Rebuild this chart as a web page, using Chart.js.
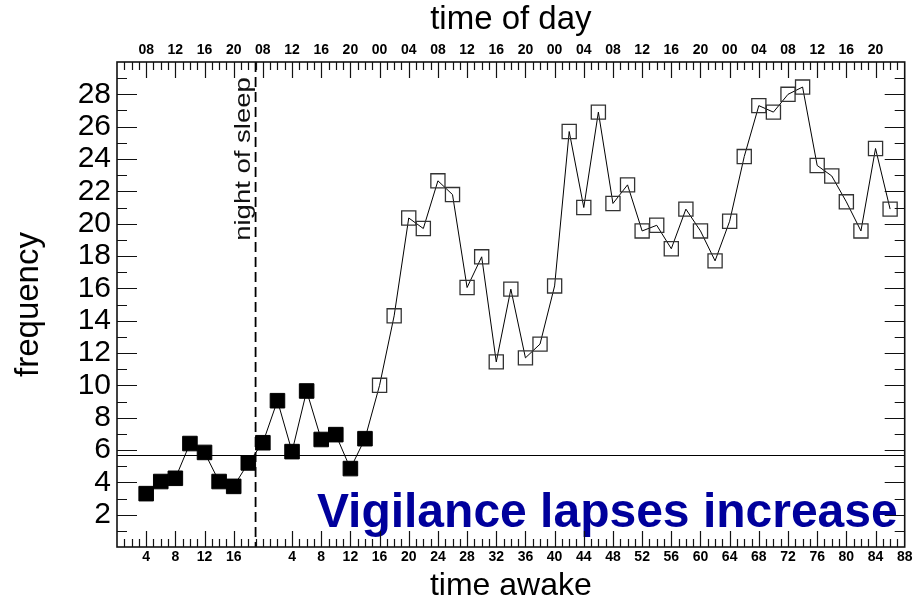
<!DOCTYPE html>
<html>
<head>
<meta charset="utf-8">
<title>Vigilance lapses</title>
<script src="https://cdn.jsdelivr.net/npm/chart.js@4.4.1/dist/chart.umd.min.js"></script>
<style>
  html, body { margin: 0; padding: 0; background: #fff; }
  #wrap { width: 916px; height: 605px; }
</style>
</head>
<body>
<div id="wrap"><canvas id="lapses" width="916" height="605"></canvas></div>
<script>
// first waking period: hours awake at each test and lapse frequency
const firstDayHours = [4, 6, 8, 10, 12, 14, 16, 18];
const firstDayLapses = [3.3, 4.05, 4.25, 6.4, 5.85, 4.05, 3.75, 5.2];

// second waking period, hours counted again from wake-up after the night
const secondDayHours = [0, 2, 4, 6, 8, 10, 12, 14, 16, 18, 20, 22, 24, 26, 28, 30,
  32, 34, 36, 38, 40, 42, 44, 46, 48, 50, 52, 54, 56, 58, 60, 62, 64, 66, 68, 70,
  72, 74, 76, 78, 80, 82, 84, 86];
const secondDayLapses = [6.45, 9.05, 5.9, 9.65, 6.65, 6.95, 4.85, 6.7,
  10.0, 14.3, 20.35, 19.7, 22.65, 21.8, 16.05, 17.95, 11.45, 15.95, 11.7, 12.55, 16.15,
  25.7, 21.0, 26.9, 21.25, 22.4, 19.55, 19.9, 18.45, 20.9, 19.55, 17.7, 20.15, 24.15,
  27.3, 26.9, 28.0, 28.45, 23.6, 22.95, 21.35, 19.55, 24.65, 20.9];

const lastFilledHour = 14;  // second period tests up to here are filled squares
const baselineLevel = 5.7;  // horizontal reference level
const secondStart = 20;     // second period starts here on the compressed axis
const sleepMark = 19;       // dashed marker for the night of sleep

// bottom axis: hours awake
const awakeTicksDay1 = [4, 8, 12, 16];
const awakeTicksDay2 = [4, 8, 12, 16, 20, 24, 28, 32, 36, 40, 44, 48, 52, 56, 60,
  64, 68, 72, 76, 80, 84, 88];
// top axis: clock time
const clockHoursDay1 = [4, 8, 12, 16];
const clockLabelsDay1 = ['08', '12', '16', '20'];
const clockHoursDay2 = [0, 4, 8, 12, 16, 20, 24, 28, 32, 36, 40, 44, 48, 52, 56,
  60, 64, 68, 72, 76, 80, 84];
const clockLabelsDay2 = ['08', '12', '16', '20', '00', '04', '08', '12', '16', '20',
  '00', '04', '08', '12', '16', '20', '00', '04', '08', '12', '16', '20'];
const freqTicks = [2, 4, 6, 8, 10, 12, 14, 16, 18, 20, 22, 24, 26, 28];

const FONT = 'Liberation Sans, Arial, Helvetica, sans-serif';

// build points on one continuous axis
const points = [];
firstDayHours.forEach((h, i) => points.push({ x: h, y: firstDayLapses[i], filled: true }));
secondDayHours.forEach((h, i) => points.push({
  x: secondStart + h, y: secondDayLapses[i], filled: h <= lastFilledHour
}));

const bottomLabels = new Map();
awakeTicksDay1.forEach(h => bottomLabels.set(h, String(h)));
awakeTicksDay2.forEach(h => bottomLabels.set(secondStart + h, String(h)));

const topLabels = new Map();
clockHoursDay1.forEach((h, i) => topLabels.set(h, clockLabelsDay1[i]));
clockHoursDay2.forEach((h, i) => topLabels.set(secondStart + h, clockLabelsDay2[i]));

// tick marks drawn inward on all four sides, plus the frame
const frameTicks = {
  id: 'frameTicks',
  afterDraw(chart) {
    const { ctx, chartArea: a, scales } = chart;
    const xs = scales.x, ys = scales.y;
    ctx.save();
    ctx.strokeStyle = '#111';
    ctx.lineWidth = 1.2;
    ctx.beginPath();
    for (let v = Math.ceil(xs.min) + 1; v < xs.max; v++) {
      const px = Math.round(xs.getPixelForValue(v)) + 0.5;
      const lb = bottomLabels.has(v) ? 16 : 8;
      const lt = topLabels.has(v) ? 16 : 8;
      ctx.moveTo(px, a.bottom); ctx.lineTo(px, a.bottom - lb);
      ctx.moveTo(px, a.top); ctx.lineTo(px, a.top + lt);
    }
    for (let v = Math.ceil(ys.min) + 1; v < ys.max; v++) {
      const py = Math.round(ys.getPixelForValue(v)) + 0.5;
      const len = v % 2 === 0 ? 20 : 10;
      ctx.moveTo(a.left, py); ctx.lineTo(a.left + len, py);
      ctx.moveTo(a.right, py); ctx.lineTo(a.right - len, py);
    }
    ctx.stroke();
    ctx.lineWidth = 1.6;
    ctx.strokeRect(a.left, a.top, a.right - a.left, a.bottom - a.top);
    ctx.restore();
  }
};

// reference level, night marker and annotations
const markers = {
  id: 'markers',
  beforeDatasetsDraw(chart) {
    const { ctx, chartArea: a, scales } = chart;
    const yb = Math.round(scales.y.getPixelForValue(baselineLevel)) + 0.5;
    const xs = scales.x.getPixelForValue(sleepMark);
    ctx.save();
    ctx.strokeStyle = '#000';
    ctx.lineWidth = 1.2;
    ctx.beginPath();
    ctx.moveTo(a.left, yb);
    ctx.lineTo(a.right, yb);
    ctx.stroke();

    ctx.lineWidth = 1.8;
    ctx.setLineDash([10, 5]);
    ctx.beginPath();
    ctx.moveTo(xs, a.top);
    ctx.lineTo(xs, a.bottom);
    ctx.stroke();
    ctx.setLineDash([]);

    // narrow, tall lettering along the marker
    ctx.fillStyle = '#111';
    ctx.font = '22px ' + FONT;
    ctx.textAlign = 'center';
    ctx.textBaseline = 'alphabetic';
    ctx.translate(xs - 6, 159);
    ctx.rotate(-Math.PI / 2);
    ctx.scale(1.25, 1);
    ctx.fillText('night of sleep', 0, 0);
    ctx.restore();

    ctx.save();
    ctx.fillStyle = '#00009c';
    ctx.font = 'bold 48px ' + FONT;
    ctx.textAlign = 'right';
    ctx.textBaseline = 'alphabetic';
    ctx.fillText('Vigilance lapses increase', a.right - 7, a.bottom - 20);
    ctx.restore();
  }
};

new Chart(document.getElementById('lapses'), {
  type: 'line',
  data: {
    datasets: [{
      data: points,
      borderColor: '#000',
      borderWidth: 1,
      tension: 0,
      pointStyle: 'rect',
      pointRadius: ctx => (ctx.raw && ctx.raw.filled ? 10.3 : 10),
      pointBackgroundColor: ctx => (ctx.raw && ctx.raw.filled ? '#000' : 'rgba(0,0,0,0)'),
      pointBorderColor: ctx => (ctx.raw && ctx.raw.filled ? '#000' : '#333'),
      pointBorderWidth: ctx => (ctx.raw && ctx.raw.filled ? 1 : 1.3)
    }]
  },
  options: {
    responsive: false,
    animation: false,
    events: [],
    layout: { padding: { right: 8, left: 0, top: 0, bottom: 0 } },
    plugins: { legend: { display: false }, tooltip: { enabled: false } },
    scales: {
      x: {
        type: 'linear',
        position: 'bottom',
        min: 0,
        max: 108,
        grid: { display: false, drawTicks: false },
        border: { display: false },
        afterBuildTicks: s => { s.ticks = [...bottomLabels.keys()].map(v => ({ value: v })); },
        afterFit: s => { s.height = 58; },
        ticks: {
          autoSkip: false,
          maxRotation: 0,
          padding: 1.5,
          color: '#000',
          font: { family: FONT, size: 14, weight: 'bold' },
          callback: v => bottomLabels.get(v) || ''
        },
        title: {
          display: true,
          text: 'time awake',
          color: '#000',
          font: { family: FONT, size: 32 },
          padding: { top: 0, bottom: 0 }
        }
      },
      x2: {
        type: 'linear',
        position: 'top',
        min: 0,
        max: 108,
        grid: { display: false, drawTicks: false },
        border: { display: false },
        afterBuildTicks: s => { s.ticks = [...topLabels.keys()].map(v => ({ value: v })); },
        afterFit: s => { s.height = 62; },
        ticks: {
          autoSkip: false,
          maxRotation: 0,
          padding: 3.5,
          color: '#000',
          font: { family: FONT, size: 14, weight: 'bold' },
          callback: v => topLabels.get(v) || ''
        },
        title: {
          display: true,
          text: 'time of day',
          color: '#000',
          font: { family: FONT, size: 33 },
          padding: { top: 0, bottom: 0 }
        }
      },
      y: {
        min: 0,
        max: 30,
        grid: { display: false, drawTicks: false },
        border: { display: false },
        afterBuildTicks: s => { s.ticks = freqTicks.map(v => ({ value: v })); },
        afterFit: s => { s.width = 117; },
        ticks: {
          autoSkip: false,
          padding: 6,
          color: '#000',
          font: { family: FONT, size: 30 }
        },
        title: {
          display: true,
          text: 'frequency',
          color: '#000',
          font: { family: FONT, size: 33 },
          padding: { top: 9, bottom: 0 }
        }
      }
    }
  },
  plugins: [markers, frameTicks]
});
</script>
</body>
</html>
